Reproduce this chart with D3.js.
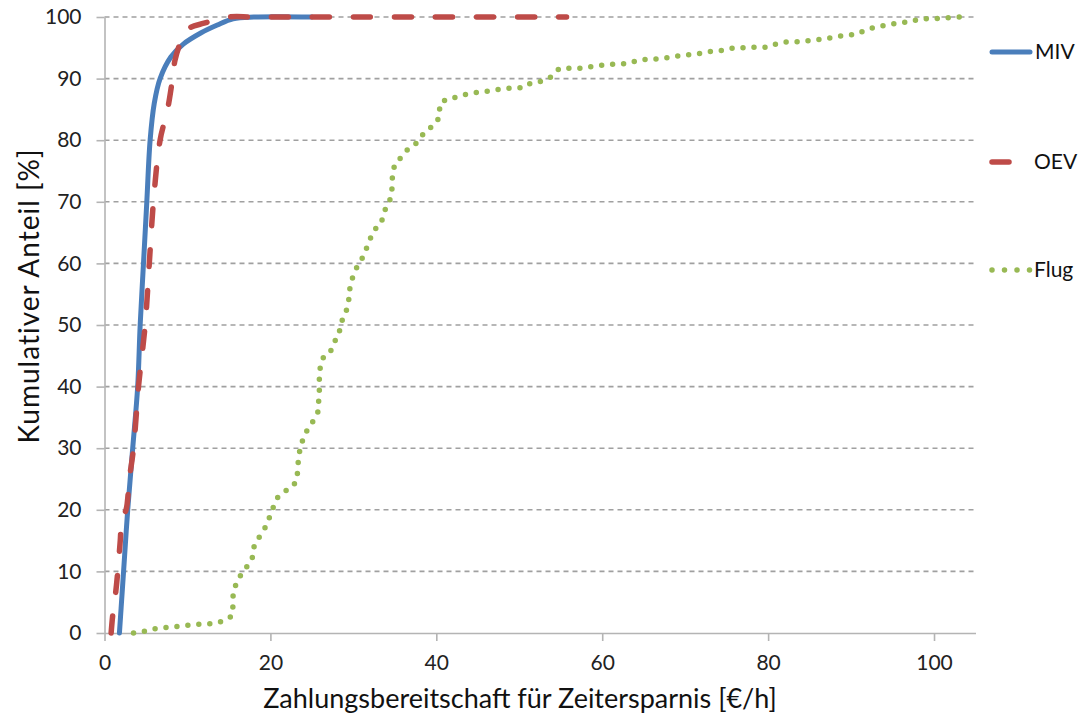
<!DOCTYPE html>
<html>
<head>
<meta charset="utf-8">
<script src="https://cdn.jsdelivr.net/npm/d3@7"></script>
<style>
  html, body { margin: 0; padding: 0; background: #fff; }
  svg { display: block; font-family: Lato, "Open Sans", sans-serif; }
</style>
</head>
<body>
<svg id="chart" width="1081" height="718"></svg>
<script>
// ---- Data ----
const xTicks = [0, 20, 40, 60, 80, 100];
const yTicks = [0, 10, 20, 30, 40, 50, 60, 70, 80, 90, 100];
const xLabel = "Zahlungsbereitschaft für Zeitersparnis [€/h]";
const yLabel = "Kumulativer Anteil [%]";
const seriesNames = ["MIV", "OEV", "Flug"];

const mivX = [1.8, 2.0, 2.3, 2.8, 3.4, 4.0, 4.3, 4.7, 5.1, 5.5, 6.0, 6.7, 8.0, 9.5, 11.6, 13.6, 15.5, 18, 25];
const mivY = [0, 4, 10, 20, 30, 40, 50, 60, 70, 80, 86, 90, 93.5, 95.6, 97.4, 98.7, 99.7, 100, 100];

const oevX = [0.8, 1.0, 1.3, 1.6, 1.9, 2.1, 2.6, 3.0, 3.5, 4.1, 4.9, 5.4, 5.9, 6.7, 7.6, 8.2, 8.5, 9.2, 10.0, 12.0, 15.0, 18.0, 30.0, 55.7];
const oevY = [0, 3, 6, 10, 15, 18.5, 20, 25, 30, 40, 50, 60, 70, 80, 85, 90, 93, 96, 98, 99, 100, 100, 100, 100];

const flugX = [3.5, 4.9, 6.4, 7.7, 9.0, 10.4, 11.8, 13.1, 14.5, 15.4, 15.5, 15.5, 15.9, 16.5, 17.8, 17.9, 18.4, 19.0, 19.6, 20.0, 20.4, 20.8, 21.6, 22.6, 23.2, 23.3, 23.4, 23.6, 24.0, 24.5, 25.1, 25.7, 25.8, 25.9, 25.9, 26.0, 26.3, 27.2, 27.6, 28.3, 28.4, 29.0, 29.3, 29.5, 29.6, 30.0, 30.5, 31.1, 31.6, 32.0, 32.5, 33.4, 33.6, 34.2, 34.6, 34.7, 34.7, 35.1, 35.9, 36.6, 37.5, 38.1, 38.9, 39.9, 40.4, 40.4, 41.3, 42.5, 43.7, 45.1, 46.4, 47.8, 49.2, 50.5, 51.4, 52.8, 54.0, 54.8, 56.1, 57.6, 58.9, 60.2, 61.7, 63.0, 64.2, 65.7, 67.0, 68.3, 69.6, 71.0, 72.2, 73.4, 74.7, 75.9, 77.3, 78.7, 80.0, 81.3, 82.7, 84.1, 85.4, 86.7, 88.1, 89.4, 90.7, 91.8, 93.0, 94.3, 95.5, 97.0, 98.3, 99.8, 101.1, 102.5, 104.0];
const flugY = [0, 0.3, 0.8, 0.9, 1.1, 1.3, 1.5, 1.5, 2.0, 2.8, 4.7, 6.5, 8.1, 9.6, 11.9, 13.6, 15.1, 16.2, 17.7, 19.2, 20.6, 21.9, 22.9, 23.7, 24.8, 26.8, 28.6, 30.0, 31.8, 33.1, 34.3, 35.6, 37.3, 39.3, 41.4, 43.0, 44.6, 45.5, 47.1, 48.4, 50.2, 51.5, 53.1, 54.5, 56.3, 58.1, 59.6, 60.9, 62.5, 63.9, 65.4, 66.6, 68.2, 69.5, 71.1, 73.0, 74.8, 76.3, 77.4, 78.6, 79.4, 80.5, 81.7, 82.6, 83.9, 85.9, 86.7, 87.0, 87.5, 87.8, 88.0, 88.3, 88.5, 88.5, 89.3, 89.6, 90.4, 91.6, 91.7, 91.7, 92.0, 92.2, 92.4, 92.4, 92.9, 93.2, 93.2, 93.5, 93.8, 93.9, 94.2, 94.5, 94.6, 95.0, 95.0, 95.1, 95.1, 95.8, 96.0, 96.0, 96.3, 96.4, 96.8, 97.0, 97.2, 97.9, 98.4, 98.7, 99.0, 99.2, 99.7, 99.7, 99.8, 100, 100];

// ---- Layout ----
const svg = d3.select("#chart");
const x = d3.scaleLinear().domain([0, 105]).range([104.5, 975.5]);
const y = d3.scaleLinear().domain([0, 100]).range([633, 17]);
const colors = { MIV: "#4A7EBB", OEV: "#BE4B48", Flug: "#98B954" };
const font = 'Lato, "Open Sans", sans-serif';

// gridlines
svg.append("g").selectAll("line")
  .data(yTicks.filter(d => d > 0))
  .join("line")
  .attr("x1", x(0)).attr("x2", x(105))
  .attr("y1", d => y(d)).attr("y2", d => y(d))
  .attr("stroke", "#a0a0a0").attr("stroke-width", 1.6)
  .attr("stroke-dasharray", "5,4");

// axes
const yAxis = svg.append("g").attr("transform", `translate(${x(0)},0)`)
  .call(d3.axisLeft(y).tickValues(yTicks).tickSize(8).tickPadding(15).tickSizeOuter(0));
const xAxis = svg.append("g").attr("transform", `translate(0,${y(0)})`)
  .call(d3.axisBottom(x).tickValues(xTicks).tickSize(8).tickPadding(14).tickSizeOuter(0));
[yAxis, xAxis].forEach(g => {
  g.select(".domain").attr("stroke", "#b4b4b4").attr("stroke-width", 1.6);
  g.selectAll(".tick line").attr("stroke", "#b4b4b4").attr("stroke-width", 1.6);
  g.selectAll(".tick text").attr("fill", "#222").style("font-family", font).style("font-size", "21px");
});

// series
const smooth = d3.line().x(d => x(d[0])).y(d => y(d[1])).curve(d3.curveCatmullRom.alpha(0.5));
const straight = d3.line().x(d => x(d[0])).y(d => y(d[1]));
const series = [
  { name: "MIV", pts: d3.zip(mivX, mivY), dash: null, width: 5, gen: smooth },
  { name: "OEV", pts: d3.zip(oevX, oevY), dash: "17,24", width: 5.5, gen: smooth },
  { name: "Flug", pts: d3.zip(flugX, flugY), dash: "0,11", width: 5.5, gen: straight }
];
const order = ["Flug", "MIV", "OEV"];
order.forEach(n => {
  const s = series.find(d => d.name === n);
  svg.append("path")
    .attr("d", s.gen(s.pts))
    .attr("fill", "none")
    .attr("stroke", colors[n])
    .attr("stroke-width", s.width)
    .attr("stroke-linecap", "round")
    .attr("stroke-linejoin", "round")
    .attr("stroke-dasharray", s.dash);
});

// legend
const legendY = [52, 162, 270];
seriesNames.forEach((n, i) => {
  const s = series.find(d => d.name === n);
  svg.append("line")
    .attr("x1", 992).attr("x2", n === "OEV" ? 1009 : 1030)
    .attr("y1", legendY[i]).attr("y2", legendY[i])
    .attr("stroke", colors[n]).attr("stroke-width", s.width)
    .attr("stroke-linecap", "round")
    .attr("stroke-dasharray", n === "Flug" ? "0,12.5" : null);
  svg.append("text")
    .attr("x", n === "MIV" ? 1035 : 1034).attr("y", legendY[i])
    .attr("dy", "0.35em")
    .attr("fill", "#111")
    .style("font-family", font).style("font-size", "21px")
    .text(n);
});

// axis titles
svg.append("text")
  .attr("x", 520).attr("y", 708)
  .attr("text-anchor", "middle")
  .attr("fill", "#111")
  .style("font-family", font).style("font-size", "27px")
  .text(xLabel);
svg.append("text")
  .attr("transform", "translate(39,296) rotate(-90)")
  .attr("text-anchor", "middle")
  .attr("fill", "#111")
  .style("font-family", font).style("font-size", "28px")
  .style("letter-spacing", "1px")
  .text(yLabel);
</script>
</body>
</html>
